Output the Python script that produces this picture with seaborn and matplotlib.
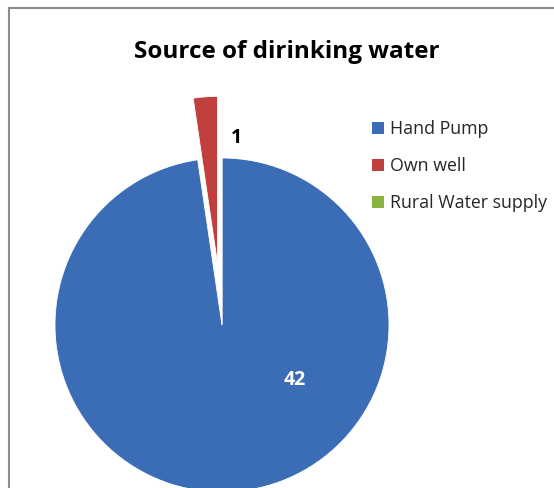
import matplotlib
matplotlib.use("Agg")
import matplotlib.pyplot as plt
import matplotlib.patches as mpatches
import seaborn as sns

categories = ["Hand Pump", "Own well", "Rural Water supply"]
counts = [42, 1, 0]
slice_colors = ["#3A6DB5", "#C0403D", "#8DB33F"]

sns.set_theme(style="white")
plt.rcParams["font.family"] = ["Open Sans", "DejaVu Sans"]

W, H = 554, 488
fig = plt.figure(figsize=(W / 100, H / 100), dpi=100)
ax = fig.add_axes([0, 0, 1, 1])

# chart frame (continues past the right and bottom edges)
ax.add_patch(mpatches.Rectangle((9, -20), 600, 488 - 8 + 20, fill=False,
                                edgecolor="#8c8c8c", linewidth=1.5))

cx, cy, r = 222, 488 - 325, 167
offset = 0.37 * r  # pie explode offsets are in data units
wedges, _ = ax.pie(counts, colors=slice_colors, startangle=90, counterclock=False,
                   explode=[0, offset, 0], center=(cx, cy), radius=r,
                   wedgeprops=dict(edgecolor="white", linewidth=0.6))

# value labels
ax.text(295, 488 - 380, str(counts[0]), color="white", fontsize=14, fontweight="bold",
        ha="center", va="center")
ax.text(236, 488 - 138, str(counts[1]), color="black", fontsize=14, fontweight="bold",
        ha="center", va="center")

ax.text(287, 488 - 52, "Source of dirinking water", fontsize=17.5, fontweight="bold",
        ha="center", va="center", color="black")

handles = [mpatches.Patch(facecolor=c, edgecolor="none") for c in slice_colors]
leg = ax.legend(handles, categories, loc="upper left", bbox_to_anchor=(372 / W, 1 - 120 / H),
                frameon=False, fontsize=12.8, handlelength=0.65, handleheight=0.65,
                handletextpad=0.35, labelspacing=1.08, borderaxespad=0, borderpad=0)

ax.set_xlim(0, W)
ax.set_ylim(0, H)
ax.set_aspect("equal")
ax.axis("off")

fig.savefig("out.png", dpi=100)
